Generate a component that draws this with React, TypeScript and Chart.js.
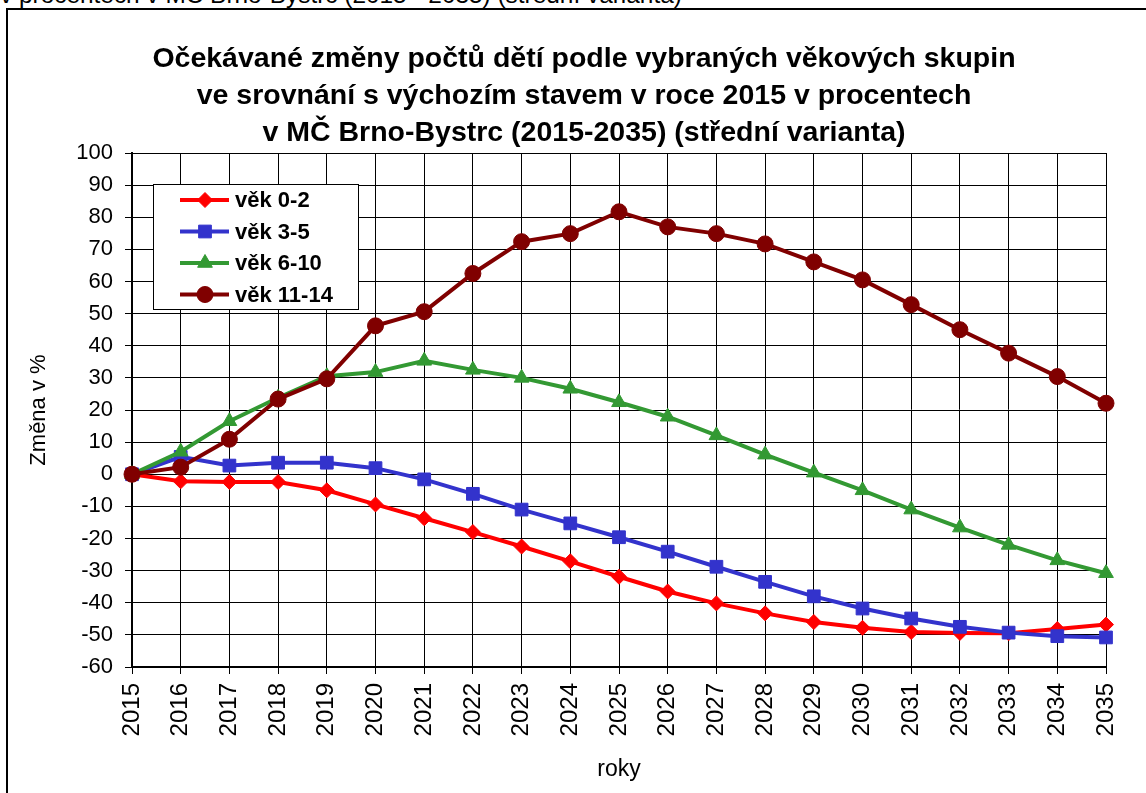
import React, { useEffect, useRef } from "react";
import { Chart, registerables } from "chart.js";

Chart.register(...registerables);

const years = ["2015","2016","2017","2018","2019","2020","2021","2022","2023","2024","2025","2026","2027","2028","2029","2030","2031","2032","2033","2034","2035"];

const age0_2 = [0, -2.2, -2.4, -2.4, -5.0, -9.4, -13.7, -18.0, -22.5, -27.1, -31.9, -36.5, -40.2, -43.3, -46.0, -47.8, -49.1, -49.4, -49.5, -48.2, -46.8];
const age3_5 = [0, 5.4, 2.7, 3.6, 3.6, 1.9, -1.6, -6.1, -11.0, -15.3, -19.6, -24.1, -28.8, -33.5, -38.0, -41.8, -44.9, -47.5, -49.3, -50.4, -50.8];
const age6_10 = [0, 7.0, 16.5, 23.8, 30.5, 31.8, 35.3, 32.5, 30.0, 26.6, 22.4, 17.9, 12.1, 6.1, 0.5, -5.0, -11.0, -16.6, -22.0, -26.8, -30.8];
const age11_14 = [0, 2.2, 10.9, 23.4, 29.7, 46.2, 50.6, 62.5, 72.4, 74.9, 81.7, 77.0, 74.9, 71.7, 66.1, 60.5, 52.8, 45.0, 37.7, 30.4, 22.1];

const seriesLabels = ["věk 0-2", "věk 3-5", "věk 6-10", "věk 11-14"];
const titleLines = [
  "Očekávané změny počtů dětí podle vybraných věkových skupin",
  "ve srovnání s výchozím stavem v roce 2015 v procentech",
  "v MČ Brno-Bystrc (2015-2035) (střední varianta)",
];
const topCutText = "v procentech v MČ Brno-Bystrc (2015 - 2035) (střední varianta)";
const yTitle = "Změna v %";
const xTitle = "roky";

const FONT = '"Liberation Sans", Arial, sans-serif';

function drawMarker(ctx: CanvasRenderingContext2D, style: string, x: number, y: number, r: number, color: string) {
  ctx.save();
  ctx.fillStyle = color;
  ctx.strokeStyle = color;
  ctx.lineWidth = 1;
  ctx.beginPath();
  if (style === "rectRot") {
    ctx.moveTo(x, y - r); ctx.lineTo(x + r, y); ctx.lineTo(x, y + r); ctx.lineTo(x - r, y); ctx.closePath();
  } else if (style === "rect") {
    const s = Math.SQRT1_2 * r;
    ctx.rect(x - s, y - s, 2 * s, 2 * s);
  } else if (style === "triangle") {
    ctx.moveTo(x, y - r);
    ctx.lineTo(x + r * Math.cos(Math.PI / 6), y + r * 0.5);
    ctx.lineTo(x - r * Math.cos(Math.PI / 6), y + r * 0.5);
    ctx.closePath();
  } else {
    ctx.arc(x, y, r, 0, Math.PI * 2);
  }
  ctx.fill();
  ctx.stroke();
  ctx.restore();
}

const legendPlugin = {
  id: "boxLegend",
  afterDatasetsDraw(chart: any) {
    const ctx: CanvasRenderingContext2D = chart.ctx;
    ctx.save();
    ctx.fillStyle = "#fff";
    ctx.fillRect(153.5, 184.5, 205, 125);
    ctx.strokeStyle = "#000";
    ctx.lineWidth = 1;
    ctx.strokeRect(153.5, 184.5, 205, 125);
    [0, 1, 2, 3].forEach((i) => {
      const ds = chart.data.datasets.find((d: any) => d.label === seriesLabels[i]);
      if (!ds) return;
      const y = 200 + i * 31.5;
      ctx.strokeStyle = ds.borderColor;
      ctx.lineWidth = 4;
      ctx.beginPath();
      ctx.moveTo(180, y);
      ctx.lineTo(229, y);
      ctx.stroke();
      drawMarker(ctx, ds.pointStyle, 205, y, ds.pointRadius, ds.borderColor);
      ctx.fillStyle = "#000";
      ctx.font = `bold 22px ${FONT}`;
      ctx.textBaseline = "middle";
      ctx.textAlign = "left";
      ctx.fillText(ds.label, 235, y + 1);
    });
    ctx.restore();
  },
};

export default function App() {
  const canvasRef = useRef<HTMLCanvasElement | null>(null);

  useEffect(() => {
    document.body.style.margin = "0";
    const canvas = canvasRef.current;
    if (!canvas) return;
    Chart.defaults.font.family = FONT;
    const chart = new Chart(canvas, {
      type: "line",
      data: {
        labels: years,
        datasets: [
          { label: seriesLabels[0], data: age0_2, borderColor: "#FF0000", backgroundColor: "#FF0000", pointStyle: "rectRot", pointRadius: 7.5, pointBorderWidth: 1, borderWidth: 4, order: 3 } as any,
          { label: seriesLabels[1], data: age3_5, borderColor: "#3333CC", backgroundColor: "#3333CC", pointStyle: "rect", pointRadius: 9, pointBorderWidth: 1, borderWidth: 4, order: 2 } as any,
          { label: seriesLabels[2], data: age6_10, borderColor: "#339933", backgroundColor: "#339933", pointStyle: "triangle", pointRadius: 8.5, pointBorderWidth: 1, borderWidth: 4, order: 1 } as any,
          { label: seriesLabels[3], data: age11_14, borderColor: "#800000", backgroundColor: "#800000", pointStyle: "circle", pointRadius: 8, pointBorderWidth: 1, borderWidth: 4, order: 0 } as any,
        ],
      },
      options: {
        animation: false,
        responsive: false,
        maintainAspectRatio: false,
        layout: { padding: { top: 153, right: 40, bottom: 0, left: 0 } },
        plugins: {
          legend: { display: false },
          tooltip: { enabled: false },
          title: { display: false },
        },
        elements: { line: { tension: 0 } },
        scales: {
          x: {
            type: "category",
            offset: false,
            afterFit: (scale: any) => { scale.height = 126; },
            grid: { color: "#000", lineWidth: 1, tickLength: 7, drawTicks: true },
            border: { color: "#000", width: 2 },
            ticks: { color: "#000", font: { size: 24 }, minRotation: 90, maxRotation: 90, padding: 9, autoSkip: false },
            title: { display: true, text: xTitle, color: "#000", font: { size: 23 }, padding: { top: 0, bottom: 10 } },
          },
          y: {
            min: -60,
            max: 100,
            afterFit: (scale: any) => { scale.width = 132; },
            grid: { color: "#000", lineWidth: 1, tickLength: 7, drawTicks: true },
            border: { color: "#000", width: 2 },
            ticks: { color: "#000", font: { size: 22 }, stepSize: 10, padding: 12 },
            title: { display: true, text: yTitle, color: "#000", font: { size: 22 }, padding: { top: 26, bottom: 0 } },
          },
        },
      },
      plugins: [legendPlugin],
    });
    return () => chart.destroy();
  }, []);

  return (
    <div style={{ position: "relative", width: 1146, height: 793, overflow: "hidden", background: "#fff", fontFamily: FONT }}>
      <div style={{ position: "absolute", left: 0, top: -16.6, fontSize: 24.4, lineHeight: "24.4px", whiteSpace: "nowrap", color: "#000" }}>{topCutText}</div>
      <div style={{ position: "absolute", left: 6, top: 8, width: 1200, height: 900, border: "2px solid #000", boxSizing: "border-box" }} />
      <canvas ref={canvasRef} width={1146} height={793} style={{ position: "absolute", left: 0, top: 0 }} />
      <div style={{ position: "absolute", left: 0, top: 39, width: 1168, textAlign: "center", fontWeight: "bold", fontSize: 28.5, lineHeight: "37px", color: "#000" }}>
        {titleLines.map((t, i) => (<div key={i}>{t}</div>))}
      </div>
    </div>
  );
}
